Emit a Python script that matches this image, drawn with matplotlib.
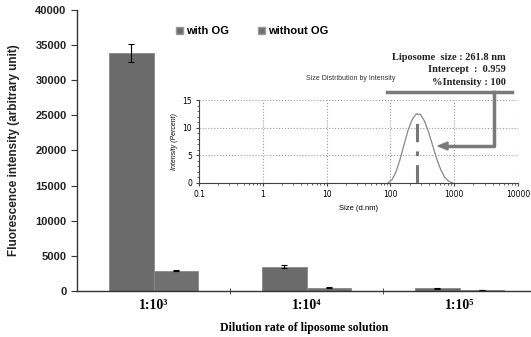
import numpy as np
import matplotlib.pyplot as plt
from matplotlib.patches import Patch

# Datos del gráfico principal
dilutions = ['1:10³', '1:10⁴', '1:10⁵']
with_og = [33900, 3450, 380]
with_og_err = [1250, 180, 30]
without_og = [2900, 480, 130]
without_og_err = [100, 40, 15]

# Datos del inset (distribución de tamaños)
size_nm = [91.3, 105.7, 122.4, 141.8, 164.2, 190.1, 220.2, 255.0, 295.3,
           342.0, 396.1, 458.7, 531.2, 615.1, 712.4, 825.0, 955.4]
intensity_pct = [0.0, 0.6, 2.0, 4.3, 7.0, 9.6, 11.5, 12.5, 12.4,
                 11.2, 9.2, 6.8, 4.4, 2.4, 1.0, 0.3, 0.0]
peak_size = 261.8

bar_color = '#6b6b6b'
sans = 'Liberation Sans'
serif = ['Liberation Serif', 'DejaVu Serif']

fig = plt.figure(figsize=(5.31, 3.37), dpi=100)
ax = fig.add_axes([77/531, 1 - 291/337, 454/531, 281/337])

x = np.arange(len(dilutions))
w = 0.29
ax.bar(x - w/2, with_og, w, color=bar_color, edgecolor='#8a8a8a', linewidth=0.6,
       yerr=with_og_err, error_kw=dict(ecolor='black', elinewidth=0.8, capsize=2, capthick=0.8))
ax.bar(x + w/2, without_og, w, color='#707070', edgecolor='#8a8a8a', linewidth=0.6,
       yerr=without_og_err, error_kw=dict(ecolor='black', elinewidth=0.8, capsize=2, capthick=0.8))

ax.set_xlim(-0.5, -0.5 + 454/153)
ax.set_ylim(0, 40000)
ax.set_yticks(range(0, 40001, 5000))
ax.set_xticks(x)
ax.set_xticks([0.5, 1.5], minor=True)
ax.set_xticklabels(dilutions, fontfamily=serif, fontweight='bold', fontsize=10)
ax.tick_params(axis='x', which='major', length=0, pad=6)
ax.tick_params(axis='x', which='minor', length=4, direction='inout', color='#333333')
ax.tick_params(axis='y', length=4, color='#333333', labelsize=8)
for lbl in ax.get_yticklabels():
    lbl.set_fontfamily(sans)
    lbl.set_fontweight('bold')
    lbl.set_color('#222222')
for s in ['top', 'right']:
    ax.spines[s].set_visible(False)
for s in ['left', 'bottom']:
    ax.spines[s].set_color('#333333')
    ax.spines[s].set_linewidth(1.0)

ax.set_ylabel('Fluorescence intensity (arbitrary unit)', fontfamily=sans,
              fontweight='bold', fontsize=8.5, color='#222222', labelpad=11)
ax.set_xlabel('Dilution rate of liposome solution', fontfamily=serif,
              fontweight='bold', fontsize=8.5, labelpad=7)

handles = [Patch(facecolor=bar_color, edgecolor='#999999'),
           Patch(facecolor='#707070', edgecolor='#999999')]
fig.legend(handles, ['with OG', 'without OG'], loc='center left',
           bbox_to_anchor=(166/531, 1 - 31/337), ncol=2, frameon=False,
           handlelength=0.6, handleheight=0.6, handletextpad=0.3, columnspacing=2.6,
           prop={'family': sans, 'weight': 'bold', 'size': 8})

# Inset: distribución de tamaños por intensidad
ins = fig.add_axes([199/531, 1 - 183/337, 319/531, 83/337])
ins.plot(size_nm, intensity_pct, color='#888888', linewidth=0.9)
ins.plot([peak_size, peak_size], [0, max(intensity_pct)], color='#777777',
         linewidth=2.2, linestyle=(0, (6, 3, 1.5, 3)))
ins.set_xscale('log')
ins.set_xlim(0.1, 10000)
ins.set_ylim(0, 15)
ins.set_yticks([0, 5, 10, 15])
ins.set_xticks([0.1, 1, 10, 100, 1000, 10000])
ins.set_xticklabels(['0.1', '1', '10', '100', '1000', '10000'])
ins.grid(True, which='major', linestyle=':', color='#999999', linewidth=0.8)
ins.tick_params(labelsize=5.5, length=2, color='#444444', pad=3)
ins.tick_params(which='minor', length=1.5, color='#444444')
ins.set_yticks([1, 2, 3, 4, 6, 7, 8, 9, 11, 12, 13, 14], minor=True)
for s in ['top', 'right']:
    ins.spines[s].set_visible(False)
for s in ['left', 'bottom']:
    ins.spines[s].set_color('#444444')
ins.patch.set_alpha(0)
ins.set_xlabel('Size (d.nm)', fontsize=5.5, fontfamily=sans, labelpad=4)
ins.set_ylabel('Intensity (Percent)', fontsize=5, fontfamily=sans, style='italic', labelpad=3)
fig.text(351/531, 1 - 79/337, 'Size Distribution by Intensity', fontsize=5,
         fontfamily=sans, ha='center', va='center', color='#333333')

# Texto de anotación
fig.text(506/531, 1 - 57/337, 'Liposome  size : 261.8 nm', fontsize=7.5, fontfamily=serif,
         fontweight='bold', ha='right', va='center', color='#222222')
fig.text(506/531, 1 - 70/337, 'Intercept  :  0.959', fontsize=7.5, fontfamily=serif,
         fontweight='bold', ha='right', va='center', color='#222222')
fig.text(506/531, 1 - 83/337, '%Intensity : 100', fontsize=7.5, fontfamily=serif,
         fontweight='bold', ha='right', va='center', color='#222222')

arrow_col = '#7a7a7a'
fig.add_artist(plt.Line2D([387/531, 512/531], [1 - 92/337, 1 - 92/337],
                          color=arrow_col, linewidth=2.5))
fig.add_artist(plt.Line2D([494/531, 494/531, 446/531], [1 - 92/337, 1 - 146/337, 1 - 146/337],
                          color=arrow_col, linewidth=2.5))
fig.patches.append(plt.Polygon([[438/531, 1 - 146/337], [448/531, 1 - 142/337],
                                [448/531, 1 - 150/337]], closed=True, color=arrow_col,
                               transform=fig.transFigure, figure=fig))

plt.savefig('out.png', dpi=100)
